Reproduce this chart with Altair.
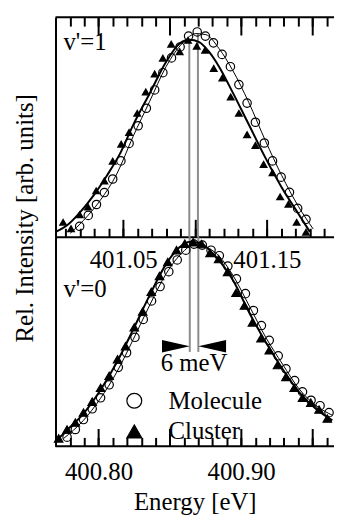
import altair as alt
import pandas as pd

FONT = "Liberation Serif"
INK = "black"
GUIDE_GREY = "#8c8c8c"
SERIES = ["Molecule", "Cluster"]

# ---------------- v'=1 band (upper panel) ----------------
top_mol_e = [401.0197, 401.0257, 401.0314, 401.0369, 401.0427, 401.0484, 401.0541,
             401.0604, 401.0661, 401.0719, 401.0776, 401.0836, 401.0896, 401.0955,
             401.1015, 401.1072, 401.1128, 401.1188, 401.1246, 401.1305, 401.1362,
             401.1420, 401.1482, 401.1539, 401.1599, 401.1657, 401.1714, 401.1772]
top_mol_i = [0.053, 0.106, 0.159, 0.217, 0.283, 0.371, 0.456, 0.542, 0.627, 0.716,
             0.800, 0.872, 0.925, 0.978, 0.998, 0.978, 0.945, 0.889, 0.829, 0.742,
             0.652, 0.559, 0.458, 0.371, 0.292, 0.218, 0.140, 0.087]

top_clu_e = [401.0082, 401.0137, 401.0197, 401.0255, 401.0312, 401.0369, 401.0427,
             401.0486, 401.0541, 401.0598, 401.0657, 401.0719, 401.0776, 401.0834,
             401.0893, 401.0951, 401.1012, 401.1070, 401.1130, 401.1190, 401.1248,
             401.1305, 401.1362, 401.1420, 401.1477, 401.1539, 401.1592, 401.1650,
             401.1707, 401.1772]
top_clu_i = [0.074, 0.043, 0.111, 0.149, 0.227, 0.275, 0.371, 0.454, 0.511, 0.604,
             0.708, 0.795, 0.872, 0.940, 0.904, 0.959, 0.930, 0.911, 0.822, 0.776,
             0.684, 0.604, 0.500, 0.448, 0.355, 0.315, 0.198, 0.162, 0.074, 0.026]

top_mol_fit_e = [401.0132, 401.0224, 401.0339, 401.0455, 401.0569, 401.0684, 401.0799,
                 401.0914, 401.1006, 401.1075, 401.1167, 401.1259, 401.1374, 401.1489,
                 401.1603, 401.1719, 401.1822]
top_mol_fit_i = [0.019, 0.082, 0.178, 0.307, 0.490, 0.660, 0.830, 0.945, 0.990, 0.985,
                 0.917, 0.815, 0.655, 0.470, 0.300, 0.150, 0.040]

top_clu_fit_e = [401.0029, 401.0110, 401.0201, 401.0293, 401.0386, 401.0477, 401.0569,
                 401.0684, 401.0799, 401.0891, 401.0960, 401.1029, 401.1098, 401.1167,
                 401.1259, 401.1374, 401.1489, 401.1603, 401.1719, 401.1799]
top_clu_fit_i = [0.026, 0.058, 0.122, 0.202, 0.299, 0.405, 0.545, 0.699, 0.853, 0.941,
                 0.960, 0.949, 0.901, 0.829, 0.708, 0.548, 0.387, 0.242, 0.114, 0.026]

# fitted peak positions (cluster, molecule) and their heights
top_peak_e = [401.096, 401.102]
top_peak_i = [0.96, 0.99]

# ---------------- v'=0 band (lower panel) ----------------
bot_mol_e = [400.7780, 400.7838, 400.7895, 400.7956, 400.8015, 400.8075, 400.8139,
             400.8197, 400.8256, 400.8314, 400.8372, 400.8432, 400.8493, 400.8552,
             400.8612, 400.8669, 400.8728, 400.8789, 400.8847, 400.8907, 400.8967,
             400.9030, 400.9086, 400.9142, 400.9197, 400.9260, 400.9314, 400.9375,
             400.9430, 400.9490, 400.9553, 400.9616]
bot_mol_i = [0.045, 0.083, 0.132, 0.185, 0.239, 0.303, 0.389, 0.461, 0.537, 0.625,
             0.716, 0.787, 0.860, 0.918, 0.966, 0.996, 0.991, 0.966, 0.939, 0.888,
             0.825, 0.752, 0.669, 0.595, 0.522, 0.446, 0.382, 0.324, 0.268, 0.227,
             0.200, 0.166]

bot_clu_e = [400.7721, 400.7780, 400.7838, 400.7895, 400.7956, 400.8015, 400.8075,
             400.8134, 400.8190, 400.8251, 400.8310, 400.8370, 400.8428, 400.8486,
             400.8547, 400.8605, 400.8664, 400.8723, 400.8782, 400.8842, 400.8905,
             400.8964, 400.9023, 400.9079, 400.9139, 400.9197, 400.9255, 400.9314,
             400.9372, 400.9430, 400.9488, 400.9546, 400.9604]
bot_clu_i = [0.039, 0.083, 0.117, 0.166, 0.220, 0.288, 0.347, 0.429, 0.493, 0.586,
             0.664, 0.761, 0.839, 0.908, 0.966, 0.998, 1.005, 0.996, 0.952, 0.922,
             0.859, 0.756, 0.693, 0.610, 0.532, 0.473, 0.400, 0.342, 0.288, 0.239,
             0.215, 0.181, 0.137]

bot_mol_fit_e = [400.7756, 400.7895, 400.8012, 400.8128, 400.8244, 400.8361, 400.8477,
                 400.8593, 400.8674, 400.8756, 400.8849, 400.8941, 400.9058, 400.9174,
                 400.9290, 400.9406, 400.9523, 400.9639]
bot_mol_fit_i = [0.039, 0.128, 0.234, 0.365, 0.527, 0.698, 0.853, 0.958, 0.996, 0.982,
                 0.934, 0.844, 0.690, 0.535, 0.405, 0.283, 0.202, 0.153]

bot_clu_fit_e = [400.7698, 400.7780, 400.7895, 400.8012, 400.8128, 400.8244, 400.8361,
                 400.8477, 400.8570, 400.8639, 400.8709, 400.8802, 400.8941, 400.9058,
                 400.9174, 400.9290, 400.9406, 400.9523, 400.9639]
bot_clu_fit_i = [0.023, 0.080, 0.161, 0.275, 0.413, 0.576, 0.747, 0.901, 0.982, 1.007,
                 1.002, 0.950, 0.820, 0.657, 0.511, 0.381, 0.267, 0.185, 0.128]

bot_peak_e = [400.864, 400.870]
shift_label = "6 meV"
arrow_level = 0.493      # height of the shift arrows
guide_floor = 0.465      # lower end of the peak guides in the lower panel

# ---------------- layout ----------------
W = 281
TOP_H = 222
BOT_H = 211
TOP_YMAX = 1.07
BOT_YMAX = 1.03

TOP_XDOM = [401.0029, 401.1967]
BOT_XDOM = [400.7699, 400.9651]
top_x = alt.Scale(domain=TOP_XDOM, nice=False, zero=False)
bot_x = alt.Scale(domain=BOT_XDOM, nice=False, zero=False)
top_y = alt.Scale(domain=[0, TOP_YMAX], nice=False, zero=False)
bot_y = alt.Scale(domain=[0, BOT_YMAX], nice=False, zero=False)

top_minor = [round(401.01 + 0.01 * k, 2) for k in range(19)]
top_major = [401.05, 401.10, 401.15]
bot_minor = [round(400.78 + 0.01 * k, 2) for k in range(19)]
bot_major = [400.80, 400.85, 400.90, 400.95]


def minor_axis(orient, values):
    # short ticks pointing into the plot
    return alt.Axis(orient=orient, values=values, offset=-9, tickSize=9, tickWidth=2,
                    tickColor=INK, domain=False, labels=False, grid=False, title=None)


def major_axis(orient, values, labels=False, label_expr=None, pad=11,
               title=None, title_y=None):
    kw = dict(orient=orient, values=values, offset=-18, tickSize=18, tickWidth=2,
              tickColor=INK, domain=False, grid=False, labels=labels)
    if labels:
        kw.update(format=".2f", labelExpr=label_expr, labelPadding=pad,
                  labelOverlap=False, labelFlush=False, labelFont=FONT,
                  labelFontSize=25, labelColor=INK)
    if title:
        kw.update(title=title, titleY=title_y, titleBaseline="alphabetic",
                  titleFont=FONT, titleFontSize=25, titleFontWeight="normal",
                  titleColor=INK)
    else:
        kw.update(title=None)
    return alt.Axis(**kw)


def left_axis(title=None):
    kw = dict(domain=True, domainWidth=2, domainColor=INK, ticks=False,
              labels=False, grid=False)
    if title:
        kw.update(title=title, titleX=-23, titleY=202.5, titleAngle=270,
                  titleAlign="center", titleBaseline="alphabetic", titleFont=FONT,
                  titleFontSize=25, titleFontWeight="normal", titleColor=INK)
    else:
        kw.update(title=None)
    return alt.Axis(**kw)


def frame(levels, xdom, xscale, yscale, yaxis):
    # horizontal frame lines across the full energy range
    df = pd.DataFrame({"lvl": levels, "x0": [xdom[0]] * len(levels),
                       "x1": [xdom[1]] * len(levels)})
    return alt.Chart(df).mark_rule(color=INK, strokeWidth=2).encode(
        x=alt.X("x0:Q", scale=xscale, axis=None), x2="x1:Q",
        y=alt.Y("lvl:Q", scale=yscale, axis=yaxis))


def tick_carrier(values, xscale, xaxis, yscale, yaxis):
    # invisible marks that only hold an extra energy axis
    df = pd.DataFrame({"e": values, "lvl": [0] * len(values)})
    return alt.Chart(df).mark_point(opacity=0).encode(
        x=alt.X("e:Q", scale=xscale, axis=xaxis),
        y=alt.Y("lvl:Q", scale=yscale, axis=yaxis))


def curve(e, i, width, xscale, xaxis, yscale, yaxis):
    return alt.Chart(pd.DataFrame({"e": e, "i": i})).mark_line(
        color=INK, strokeWidth=width, interpolate="monotone").encode(
        x=alt.X("e:Q", scale=xscale, axis=xaxis),
        y=alt.Y("i:Q", scale=yscale, axis=yaxis))


def guides(e, hi, lo, xscale, yscale, yaxis):
    return alt.Chart(pd.DataFrame({"e": e, "hi": hi, "lo": lo})).mark_rule(
        color=GUIDE_GREY, strokeWidth=2).encode(
        x=alt.X("e:Q", scale=xscale, axis=None),
        y=alt.Y("hi:Q", scale=yscale, axis=yaxis),
        y2="lo:Q")


def band_label(text, ypix):
    return alt.Chart(pd.DataFrame({"t": [text]})).mark_text(
        font=FONT, fontSize=25, color=INK, align="left", baseline="alphabetic").encode(
        x=alt.value(8), y=alt.value(ypix), text="t:N")


# ---- upper panel ----
top_yaxis = left_axis("Rel. Intensity [arb. units]")

top_layers = [
    frame([0, TOP_YMAX], TOP_XDOM, top_x, top_y, top_yaxis),
    guides(top_peak_e, top_peak_i, [0, 0], top_x, top_y, top_yaxis),
    curve(top_mol_fit_e, top_mol_fit_i, 1, top_x, minor_axis("bottom", top_minor),
          top_y, top_yaxis),
    curve(top_clu_fit_e, top_clu_fit_i, 2, top_x,
          major_axis("bottom", top_major, labels=True,
                     label_expr="datum.value == 401.1 ? '' : datum.label", pad=11),
          top_y, top_yaxis),
    alt.Chart(pd.DataFrame({"e": top_mol_e, "i": top_mol_i})).mark_point(
        shape="circle", filled=False, stroke=INK, strokeWidth=1.2, size=72, opacity=1).encode(
        x=alt.X("e:Q", scale=top_x, axis=None),
        y=alt.Y("i:Q", scale=top_y, axis=top_yaxis)),
    alt.Chart(pd.DataFrame({"e": top_clu_e, "i": top_clu_i})).mark_point(
        shape="triangle-up", filled=True, color=INK, size=80, opacity=1).encode(
        x=alt.X("e:Q", scale=top_x, axis=None),
        y=alt.Y("i:Q", scale=top_y, axis=top_yaxis)),
    # the upper frame carries the lower panel's energy ticks
    tick_carrier(bot_minor, bot_x, minor_axis("top", bot_minor), top_y, top_yaxis),
    tick_carrier(bot_major, bot_x, major_axis("top", bot_major), top_y, top_yaxis),
    band_label("v'=1", 33),
]
top = alt.layer(*top_layers).resolve_scale(x="independent").properties(
    width=W, height=TOP_H)

# ---- lower panel ----
bot_yaxis = left_axis()

pts = pd.DataFrame({
    "e": bot_mol_e + bot_clu_e,
    "i": bot_mol_i + bot_clu_i,
    "series": ["Molecule"] * len(bot_mol_e) + ["Cluster"] * len(bot_clu_e),
})
legend = alt.Legend(title=None, orient="none", legendX=67, legendY=152.5,
                    labelFont=FONT, labelFontSize=25, labelColor=INK,
                    symbolSize=225, symbolStrokeWidth=1.2, symbolStrokeColor=INK,
                    labelOffset=22, rowPadding=5, padding=0)

mid_shift = (bot_peak_e[0] + bot_peak_e[1]) / 2

bot_layers = [
    frame([0], BOT_XDOM, bot_x, bot_y, bot_yaxis),
    guides(bot_peak_e, [BOT_YMAX, BOT_YMAX], [guide_floor, guide_floor], bot_x, bot_y,
           bot_yaxis),
    curve(bot_mol_fit_e, bot_mol_fit_i, 1, bot_x, minor_axis("bottom", bot_minor),
          bot_y, bot_yaxis),
    curve(bot_clu_fit_e, bot_clu_fit_i, 2, bot_x,
          major_axis("bottom", bot_major, labels=True,
                     label_expr="(datum.value == 400.85 || datum.value == 400.95) ? '' : datum.label",
                     pad=13, title="Energy [eV]", title_y=82),
          bot_y, bot_yaxis),
    alt.Chart(pts).mark_point(filled=True, strokeWidth=1.2, size=72,
                              opacity=1).encode(
        x=alt.X("e:Q", scale=bot_x, axis=None),
        y=alt.Y("i:Q", scale=bot_y, axis=bot_yaxis),
        shape=alt.Shape("series:N", scale=alt.Scale(domain=SERIES,
                                                    range=["circle", "triangle-up"]),
                        legend=legend),
        fill=alt.Fill("series:N", scale=alt.Scale(domain=SERIES,
                                                  range=["transparent", INK]),
                      legend=legend),
        stroke=alt.Stroke("series:N", scale=alt.Scale(domain=SERIES,
                                                      range=[INK, INK]),
                          legend=legend)),
    # inward arrows marking the 6 meV shift
    alt.Chart(pd.DataFrame({"e": [bot_peak_e[0]], "i": [arrow_level]})).mark_point(
        shape="M-1,-0.45L1,0L-1,0.45Z", filled=True, color=INK, size=784,
        opacity=1).encode(
        x=alt.X("e:Q", scale=bot_x, axis=None),
        y=alt.Y("i:Q", scale=bot_y, axis=bot_yaxis),
        xOffset=alt.value(-14)),
    alt.Chart(pd.DataFrame({"e": [bot_peak_e[1]], "i": [arrow_level]})).mark_point(
        shape="M1,-0.45L-1,0L1,0.45Z", filled=True, color=INK, size=784,
        opacity=1).encode(
        x=alt.X("e:Q", scale=bot_x, axis=None),
        y=alt.Y("i:Q", scale=bot_y, axis=bot_yaxis),
        xOffset=alt.value(14)),
    alt.Chart(pd.DataFrame({"e": [mid_shift], "i": [arrow_level], "t": [shift_label]})).mark_text(
        font=FONT, fontSize=25, color=INK, align="center", baseline="alphabetic",
        dy=25).encode(
        x=alt.X("e:Q", scale=bot_x, axis=None),
        y=alt.Y("i:Q", scale=bot_y, axis=bot_yaxis),
        text="t:N"),
    band_label("v'=0", 60),
]
bot = alt.layer(*bot_layers).resolve_scale(x="independent").properties(
    width=W, height=BOT_H)

chart = alt.vconcat(top, bot, spacing=0, bounds="flush").resolve_legend(
    shape="independent", fill="independent", stroke="independent"
).properties(
    padding={"left": 12, "top": 14, "right": 0, "bottom": 2},
    background="white",
).configure_view(stroke=None)

chart.save("out.html", embed_options={"renderer": "svg", "actions": False})
